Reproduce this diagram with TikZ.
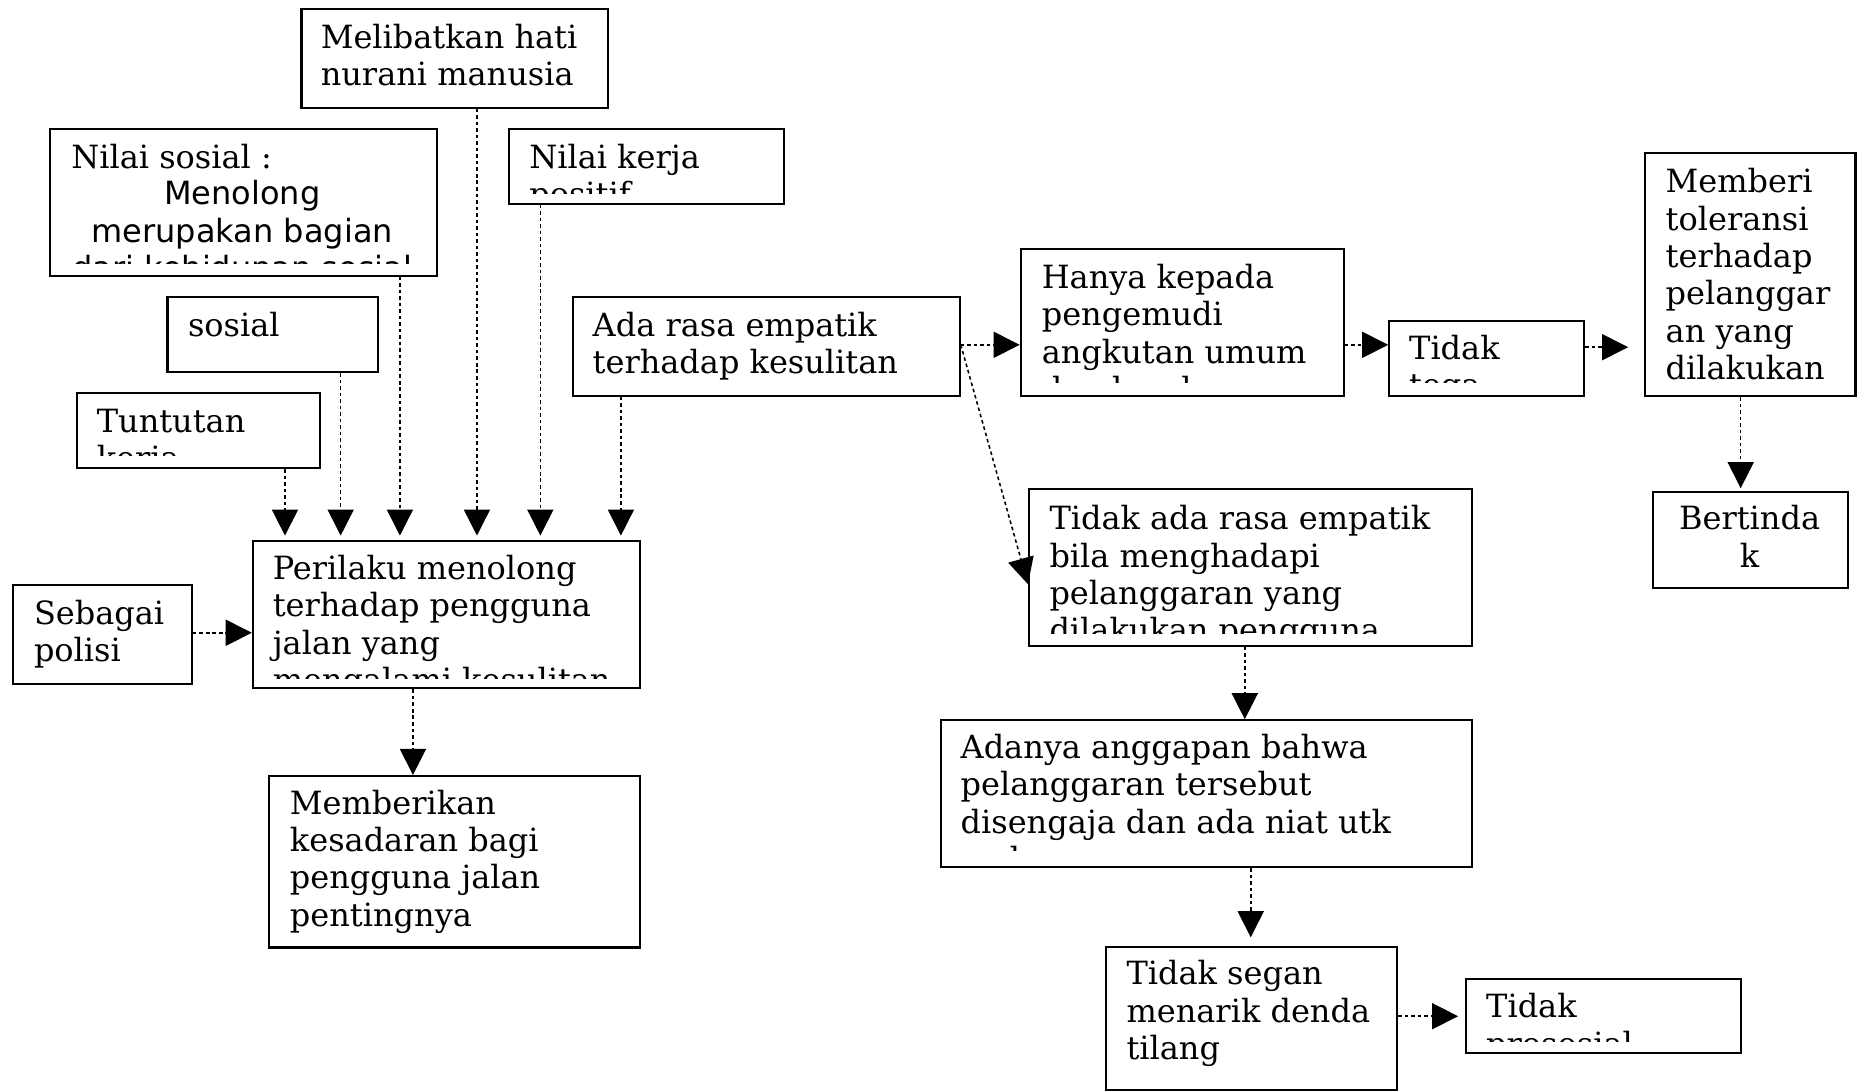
\documentclass[tikz,border=0pt]{standalone}
\usepackage{fontspec}
\setmainfont{DejaVu Serif}
\newfontfamily\sansf{DejaVu Sans}
\usetikzlibrary{arrows.meta}
\newcommand\lnsL[1]{\vtop{\baselineskip=31.5pt\lineskiplimit=-20pt\halign{##\hfil\cr#1\crcr}}}
\newcommand\lnsC[1]{\vtop{\baselineskip=31.5pt\lineskiplimit=-20pt\halign{\hfil##\hfil\cr#1\crcr}}}
\tikzset{
  box/.style={draw, line width=1.8pt, rectangle, inner sep=0pt, anchor=north west},
  txt/.style={inner sep=0pt, anchor=base west, font=\fontsize{27}{31.5}\selectfont},
  ctxt/.style={inner sep=0pt, anchor=base, font=\fontsize{27}{31.5}\selectfont},
  conn/.style={line width=1.3pt, dash pattern=on 3pt off 2.5pt, -{Triangle[length=22pt,width=22pt]}},
}
\begin{document}
\begin{tikzpicture}[x=1pt,y=-1pt]
\useasboundingbox (0,0) rectangle (1568,920.7);
% boxes
\node[box, minimum width=258.5pt, minimum height=83.5pt] (mel) at (253.5,6.5) {};
\node[box, minimum width=327pt, minimum height=124.1pt] (nsos) at (41,107.6) {};
\node[box, minimum width=232pt, minimum height=63.4pt] (nker) at (428.5,107.6) {};
\node[box, minimum width=177.5pt, minimum height=63.4pt] (sos) at (140.5,249.6) {};
\node[box, minimum width=205pt, minimum height=63.5pt] (tun) at (64,330.5) {};
\node[box, minimum width=326.5pt, minimum height=83.4pt] (ada) at (482.5,249.6) {};
\node[box, minimum width=326.5pt, minimum height=124pt] (per) at (212.5,456) {};
\node[box, minimum width=151pt, minimum height=83.2pt] (seb) at (10,492.8) {};
\node[box, minimum width=313pt, minimum height=144.7pt] (mbk) at (226,654) {};
\node[box, minimum width=272.5pt, minimum height=124.4pt] (hny) at (860.5,209) {};
\node[box, minimum width=164.5pt, minimum height=63.4pt] (tga) at (1171.5,270) {};
\node[box, minimum width=177.5pt, minimum height=205.4pt] (mbr) at (1387.5,128) {};
\node[box, minimum width=165pt, minimum height=81pt] (btd) at (1394,414) {};
\node[box, minimum width=373.5pt, minimum height=132pt] (tar) at (867.5,412) {};
\node[box, minimum width=448pt, minimum height=124pt] (adn) at (793,607) {};
\node[box, minimum width=245.5pt, minimum height=120.8pt] (sgn) at (932.5,798) {};
\node[box, minimum width=232pt, minimum height=63pt] (pro) at (1236.5,825) {};
% texts
\node[txt] (melT) at (270.5,41) {\lnsL{Melibatkan hati\cr nurani manusia}};
\begin{scope}
\clip (41,107.6) rectangle (368,222);
\node[txt] (nsosT) at (60,142) {Nilai sosial :};
\node[ctxt, font=\fontsize{27}{31.5}\sansf] (nsosS) at (204.5,173) {\lnsC{Menolong\cr merupakan bagian\cr dari kehidupan sosial}};
\end{scope}
\begin{scope}
\clip (428.5,107.6) rectangle (660.5,163);
\node[txt] (nkerT) at (446.5,142) {\lnsL{Nilai kerja\cr positif}};
\end{scope}
\node[txt] (sosT) at (158.5,284) {sosial};
\begin{scope}
\clip (64,330.5) rectangle (269,384);
\node[txt] (tunT) at (81.5,365) {\lnsL{Tuntutan\cr kerja}};
\end{scope}
\node[txt] (adaT) at (500,284) {\lnsL{Ada rasa empatik\cr terhadap kesulitan}};
\begin{scope}
\clip (212.5,456) rectangle (539,573);
\node[txt] (perT) at (230,489) {\lnsL{Perilaku menolong\cr terhadap pengguna\cr jalan yang\cr mengalami kesulitan}};
\end{scope}
\node[txt] (sebT) at (28.5,527) {\lnsL{Sebagai\cr polisi}};
\node[txt] (mbkT) at (244.5,687) {\lnsL{Memberikan\cr kesadaran bagi\cr pengguna jalan\cr pentingnya}};
\begin{scope}
\clip (860.5,209) rectangle (1133,323);
\node[txt] (hnyT) at (879,243.4) {\lnsL{Hanya kepada\cr pengemudi\cr angkutan umum\cr dan kendaraan}};
\end{scope}
\begin{scope}
\clip (1171.5,270) rectangle (1336,323);
\node[txt] (tgaT) at (1189,303.5) {\lnsL{Tidak\cr tega}};
\end{scope}
\node[txt] (mbrT) at (1405.5,162.8) {\lnsL{Memberi\cr toleransi\cr terhadap\cr pelanggar\cr an yang\cr dilakukan}};
\node[ctxt] (btdT) at (1476.5,447) {\lnsC{Bertinda\cr k}};
\begin{scope}
\clip (867.5,412) rectangle (1241,535);
\node[txt] (tarT) at (885.5,447) {\lnsL{Tidak ada rasa empatik\cr bila menghadapi\cr pelanggaran yang\cr dilakukan pengguna}};
\end{scope}
\begin{scope}
\clip (793,607) rectangle (1241,718);
\node[txt] (adnT) at (810.5,640) {\lnsL{Adanya anggapan bahwa\cr pelanggaran tersebut\cr disengaja dan ada niat utk\cr melanggar}};
\end{scope}
\node[txt] (sgnT) at (950.5,831) {\lnsL{Tidak segan\cr menarik denda\cr tilang}};
\begin{scope}
\clip (1236.5,825) rectangle (1468.5,879);
\node[txt] (proT) at (1254,859) {\lnsL{Tidak\cr prososial}};
\end{scope}
% connector end points
\coordinate (p1) at (240.5,452);
\coordinate (p2) at (287.5,452);
\coordinate (p3) at (337.5,452);
\coordinate (p4) at (402.5,452);
\coordinate (p5) at (456,452);
\coordinate (p6) at (524,452);
\coordinate (ySeb) at (0,534);
\coordinate (xPer) at (348.5,0);
\coordinate (yAda) at (0,291);
\coordinate (yTga) at (1374,293);
\coordinate (xMbr) at (1469,412);
\coordinate (yTar) at (0,493);
\coordinate (xTar) at (1050.5,0);
\coordinate (xAdn) at (1055.5,791);
\coordinate (ySgn) at (1230.5,857.6);
% connectors
\draw[conn] (p1 |- tun.south) -- (p1);
\draw[conn] (p2 |- sos.south) -- (p2);
\draw[conn] (p3 |- nsos.south) -- (p3);
\draw[conn] (p4 |- mel.south) -- (p4);
\draw[conn] (p5 |- nker.south) -- (p5);
\draw[conn] (p6 |- ada.south) -- (p6);
\draw[conn] (seb.east |- ySeb) -- (per.west |- ySeb);
\draw[conn] (xPer |- per.south) -- (xPer |- mbk.north);
\draw[conn] (ada.east |- yAda) -- (hny.west |- yAda);
\draw[conn] (hny.east |- yAda) -- (tga.west |- yAda);
\draw[conn] (tga.east |- yTga) -- (yTga);
\draw[conn] (xMbr |- mbr.south) -- (xMbr);
\draw[conn] (ada.east |- yAda) -- (tar.west |- yTar);
\draw[conn] (xTar |- tar.south) -- (xTar |- adn.north);
\draw[conn] (xAdn |- adn.south) -- (xAdn);
\draw[conn] (sgn.east |- ySgn) -- (ySgn);
\end{tikzpicture}
\end{document}
